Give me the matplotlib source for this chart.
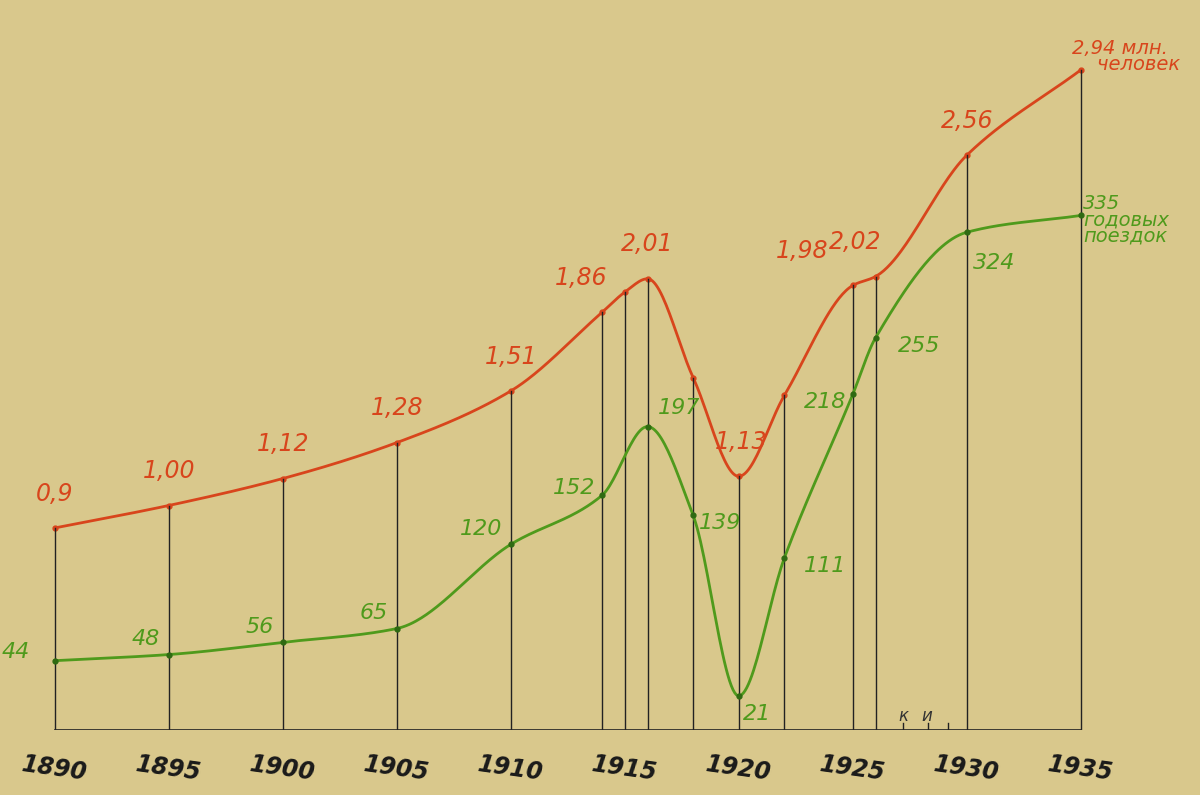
import numpy as np
import matplotlib.pyplot as plt

red_years = [1890, 1895, 1900, 1905, 1910, 1914, 1915, 1916, 1918, 1920, 1922, 1925, 1926, 1930, 1935]
red_vals = [0.9, 1.00, 1.12, 1.28, 1.51, 1.86, 1.95, 2.01, 1.57, 1.13, 1.49, 1.98, 2.02, 2.56, 2.94]
red_labels = {1890: "0,9", 1895: "1,00", 1900: "1,12", 1905: "1,28", 1910: "1,51", 1914: "1,86",
              1916: "2,01", 1920: "1,13", 1925: "1,98", 1926: "2,02", 1930: "2,56"}
green_years = [1890, 1895, 1900, 1905, 1910, 1914, 1916, 1918, 1920, 1922, 1925, 1926, 1930, 1935]
green_vals = [44, 48, 56, 65, 120, 152, 197, 139, 21, 111, 218, 255, 324, 335]
tick_years = [1890, 1895, 1900, 1905, 1910, 1915, 1920, 1925, 1930, 1935]

def pchip(x, y, xs):
    x = np.asarray(x, float); y = np.asarray(y, float)
    h = np.diff(x); d = np.diff(y) / h
    m = np.zeros_like(y)
    for k in range(1, len(x) - 1):
        if d[k-1] * d[k] > 0:
            w1 = 2*h[k] + h[k-1]; w2 = h[k] + 2*h[k-1]
            m[k] = (w1 + w2) / (w1/d[k-1] + w2/d[k])
    m[0] = d[0]; m[-1] = d[-1]
    out = np.empty_like(xs)
    for i, xv in enumerate(xs):
        k = min(np.searchsorted(x, xv, side='right') - 1, len(x) - 2)
        t = (xv - x[k]) / h[k]
        h00 = 2*t**3 - 3*t**2 + 1; h10 = t**3 - 2*t**2 + t
        h01 = -2*t**3 + 3*t**2; h11 = t**3 - t**2
        out[i] = h00*y[k] + h10*h[k]*m[k] + h01*y[k+1] + h11*h[k]*m[k+1]
    return out

RED = '#d8451c'; GREEN = '#4f9a1c'; BG = '#d9c88c'
fig = plt.figure(figsize=(12, 7.95), dpi=100, facecolor=BG)
ax = fig.add_axes([0, 65/795, 1, 730/795])
ax.set_facecolor(BG)
ax.set_xlim(1887.6, 1887.6 + 1200/22.8)
ax.set_ylim(0, 730/224.5)
ax2 = ax.twinx()
ax2.set_position(ax.get_position())
ax2.set_ylim(-2/1.53, 728/1.53)
for a in (ax, ax2):
    a.axis('off')

xs = np.linspace(1890, 1935, 600)
ax.plot(xs, pchip(red_years, red_vals, xs), color=RED, lw=2)
ax.plot(red_years, red_vals, 'o', color=RED, ms=3.5)
ax2.plot(xs, pchip(green_years, green_vals, xs), color=GREEN, lw=2)
ax2.plot(green_years, green_vals, 'o', color='#2f6a12', ms=3.5)

for yr, v in zip(red_years, red_vals):
    ax.plot([yr, yr], [0, v], color='#222', lw=1)
ax.plot([1890, 1935], [0, 0], color='#222', lw=1.2)
for t in [1927.2, 1928.3, 1929.2]:
    ax.plot([t, t], [-0.02, 0.03], color='#222', lw=1)
ax.text(1927.0, 0.04, "к", color='#333', fontsize=12, style='italic')
ax.text(1928.0, 0.04, "и", color='#333', fontsize=12, style='italic')

fs = 17
for yr, v in zip(red_years, red_vals):
    if yr in red_labels:
        dx = {1914: -0.9, 1920: 0.1, 1925: -2.2, 1926: -0.9}.get(yr, 0)
        dy = 0.10
        ax.text(yr + dx, v + dy, red_labels[yr], color=RED, fontsize=fs, style='italic',
                ha='center', va='bottom')
ax.text(1934.6, 3.0, "2,94 млн.\n    человек", color=RED, fontsize=14, style='italic',
        ha='left', va='center', linespacing=0.8)

goff = {1890: (-1.7, 6), 1895: (-1.0, 10), 1900: (-1.0, 10), 1905: (-1.0, 10), 1910: (-1.3, 10),
        1914: (-1.2, 5), 1916: (1.4, 12), 1918: (1.2, -5), 1920: (0.8, -12), 1922: (1.8, -5),
        1925: (-1.2, -5), 1926: (1.9, -5), 1930: (1.2, -20), 1935: (1.6, 5)}
for yr, v in zip(green_years, green_vals):
    dx, dy = goff[yr]
    if yr == 1935:
        ax2.text(yr + 0.1, v + 14, "335\nгодовых\nпоездок", color=GREEN, fontsize=14, style='italic',
                 ha='left', va='top', linespacing=0.8)
        continue
    ax2.text(yr + dx, v + dy, str(v), color=GREEN, fontsize=fs - 1, style='italic',
             ha='center', va='center')

for yr in tick_years:
    ax.text(yr, -0.1, str(yr), color='#1a1a1a', fontsize=17, style='italic', fontweight='bold',
            ha='center', va='top', rotation=-8)

fig.savefig('out.png', dpi=100, facecolor=BG)
